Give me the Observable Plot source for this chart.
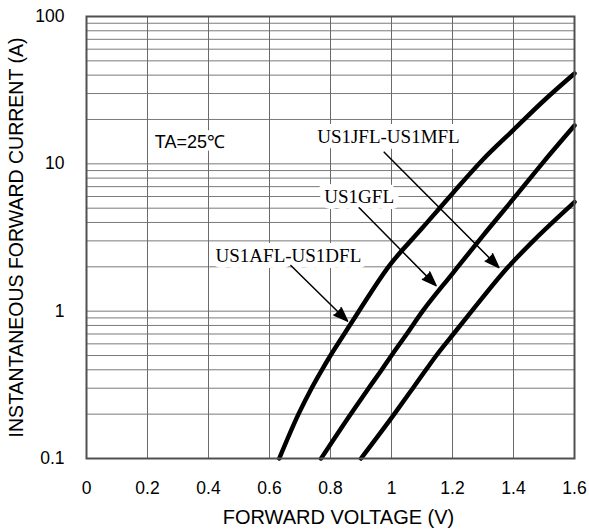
<!DOCTYPE html>
<html>
<head>
<meta charset="utf-8">
<script src="https://cdn.jsdelivr.net/npm/d3@7"></script>
<script src="https://cdn.jsdelivr.net/npm/@observablehq/plot@0.6"></script>
<style>
  html, body { margin: 0; padding: 0; background: #fff; }
</style>
</head>
<body>
<div id="chart"></div>
<script>
// ---- data ----
const seriesNames = ["US1AFL-US1DFL", "US1GFL", "US1JFL-US1MFL"];

const voltsA = [0.632, 0.695, 0.738, 0.772, 0.80, 0.845, 0.893, 0.99, 1.10, 1.20, 1.30, 1.40, 1.50, 1.60];
const ampsA  = [0.1,   0.2,   0.3,   0.4,   0.5,  0.7,   1.0,   2.0,  3.65, 6.3,  10.7, 17,   26.9, 41];

const voltsG = [0.769, 0.866, 0.925, 0.968, 1.0, 1.05, 1.102, 1.20, 1.30, 1.40, 1.50, 1.60];
const ampsG  = [0.1,   0.2,   0.3,   0.4,   0.5, 0.7,  1.0,   1.8,  3.26, 5.8,  10.4, 18.2];

const voltsJ = [0.9, 1.009, 1.07, 1.113, 1.147, 1.203, 1.263, 1.383, 1.465, 1.60];
const ampsJ  = [0.1, 0.2,   0.3,  0.4,   0.5,   0.7,   1.0,   2.0,   3.0,   5.5];

const xTicks = [0, 0.2, 0.4, 0.6, 0.8, 1.0, 1.2, 1.4, 1.6];
const xTickLabels = ["0", "0.2", "0.4", "0.6", "0.8", "1", "1.2", "1.4", "1.6"];
const yTicks = [0.1, 1, 10, 100];
const yTickLabels = ["0.1", "1", "10", "100"];
const yGrid = [0.1,0.2,0.3,0.4,0.5,0.6,0.7,0.8,0.9,1,2,3,4,5,6,7,8,9,10,20,30,40,50,60,70,80,90,100];

const xLabel = "FORWARD VOLTAGE (V)";
const yLabel = "INSTANTANEOUS FORWARD CURRENT (A)";
const condition = "TA=25\u2103";
const conditionPos = [0.339, 14.0];

// label anchors (V, A) and arrows (from -> to) in data units
const labelV = [0.662, 0.894, 0.990];
const labelI = [2.39, 5.94, 15.2];
const arrowV1 = [0.670, 0.894, 0.976];
const arrowI1 = [2.04, 5.03, 12.0];
const arrowV2 = [0.856, 1.146, 1.352];
const arrowI2 = [0.855, 1.49, 1.98];

// ---- build tables ----
const curves = [];
[[voltsA, ampsA], [voltsG, ampsG], [voltsJ, ampsJ]].forEach(([vs, is], k) => {
  vs.forEach((v, i) => curves.push({series: seriesNames[k], v, i: is[i]}));
});
const labels = seriesNames.map((s, k) => ({text: s, v: labelV[k], i: labelI[k]}));
const arrows = seriesNames.map((s, k) => ({x1: arrowV1[k], y1: arrowI1[k], x2: arrowV2[k], y2: arrowI2[k]}));

const chart = Plot.plot({
  width: 589,
  height: 531,
  marginLeft: 86,
  marginRight: 15,
  marginTop: 16,
  marginBottom: 73,
  style: {fontFamily: "'Liberation Sans', Arial, sans-serif", color: "#000", background: "#fff"},
  x: {domain: [0, 1.6]},
  y: {type: "log", domain: [0.1, 100]},
  marks: [
    Plot.ruleY(yGrid, {stroke: "#7a7a7a", strokeWidth: 1}),
    Plot.ruleX(xTicks, {stroke: "#6a6a6a", strokeWidth: 1}),
    Plot.text([condition], {x: conditionPos[0], y: conditionPos[1], text: d => d,
      fontSize: 18, fill: "#000", stroke: "#fff", strokeWidth: 10, strokeLinejoin: "round"}),
    Plot.text(labels, {x: "v", y: "i", text: "text", fontSize: 19,
      fontFamily: "'Liberation Serif', 'Times New Roman', serif",
      fill: "#000", stroke: "#fff", strokeWidth: 12, strokeLinejoin: "round"}),
    Plot.arrow(arrows, {x1: "x1", y1: "y1", x2: "x2", y2: "y2",
      stroke: "#000", fill: "#000", strokeWidth: 1.5, headLength: 15, headAngle: 40}),
    Plot.line(curves, {x: "v", y: "i", z: "series", stroke: "#000", strokeWidth: 4.5,
      curve: "monotone-x"}),
    Plot.frame({stroke: "#505050", strokeWidth: 2}),
    Plot.axisY({ticks: yTicks, tickFormat: (d) => yTickLabels[yTicks.indexOf(d)] ?? "",
      tickSize: 0, tickPadding: 22, fontSize: 17.5, label: null}),
    Plot.axisX({ticks: xTicks, tickFormat: (d) => xTickLabels[xTicks.findIndex(t => Math.abs(t - d) < 1e-9)],
      tickSize: 0, tickPadding: 23, fontSize: 17.5, label: null}),
    Plot.text([xLabel], {frameAnchor: "bottom", text: d => d, dx: 8, dy: 59, fontSize: 20,
      lineAnchor: "middle", textAnchor: "middle", fill: "#000"}),
    Plot.text([yLabel], {frameAnchor: "left", text: d => d, dx: -70, rotate: -90, fontSize: 19.5,
      lineAnchor: "middle", textAnchor: "middle", fill: "#000"})
  ]
});
document.getElementById("chart").appendChild(chart);
</script>
</body>
</html>
